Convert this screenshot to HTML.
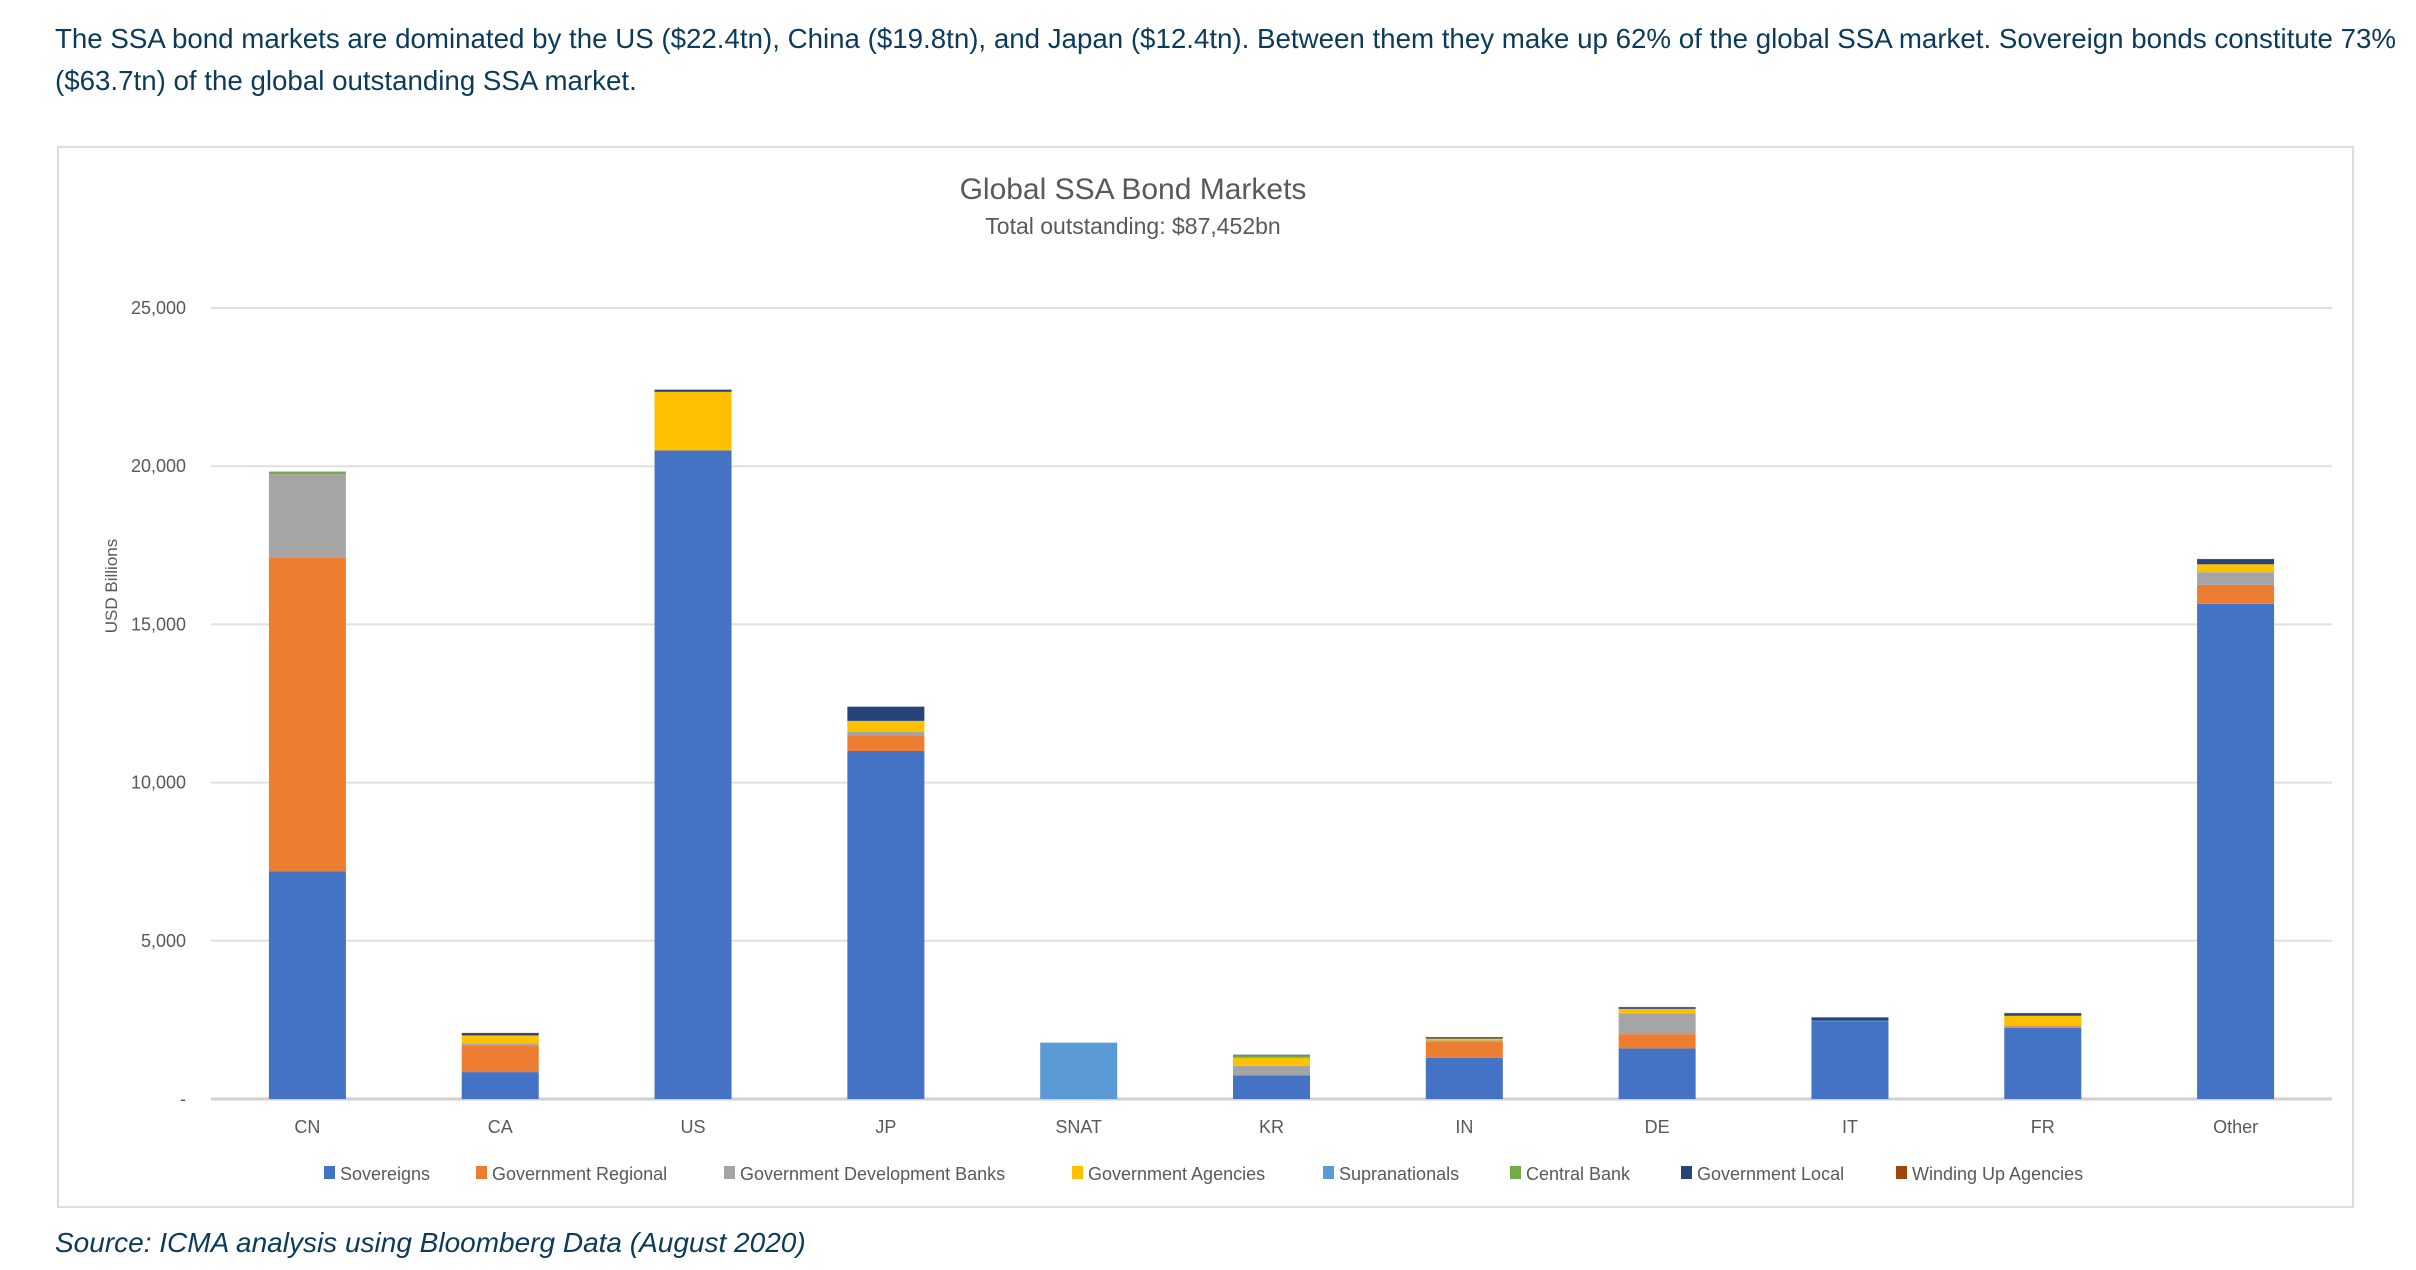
<!DOCTYPE html>
<html><head><meta charset="utf-8">
<style>
html,body{margin:0;padding:0;background:#fff;width:2416px;height:1270px;overflow:hidden}
.intro{position:absolute;left:55px;top:18px;width:2380px;font-family:"Liberation Sans",sans-serif;font-size:27.7px;line-height:42px;color:#0b3a5b}
.src{position:absolute;left:55px;top:1227px;font-family:"Liberation Sans",sans-serif;font-style:italic;font-size:28px;color:#0b3a5b}
.box{position:absolute;left:57px;top:146px;width:2297px;height:1062px;border:2px solid #dcdcdc;box-sizing:border-box}
svg{position:absolute;left:0;top:0}
</style></head><body>
<div class="intro">The SSA bond markets are dominated by the US ($22.4tn), China ($19.8tn), and Japan ($12.4tn). Between them they make up 62% of the global SSA market. Sovereign bonds constitute 73% ($63.7tn) of the global outstanding SSA market.</div>
<div class="box"></div>
<svg id="chart" width="2416" height="1270" font-family="Liberation Sans, sans-serif"></svg>
<div class="src">Source: ICMA analysis using Bloomberg Data (August 2020)</div>
<script>
const categories=["CN","CA","US","JP","SNAT","KR","IN","DE","IT","FR","Other"];
const seriesNames=["Sovereigns","Government Regional","Government Development Banks","Government Agencies","Supranationals","Central Bank","Government Local","Winding Up Agencies"];
const seriesColors=["#4472C4","#ED7D31","#A5A5A5","#FFC000","#5B9BD5","#70AD47","#264478","#9E480E"];
const sovereigns=[7200,850,20500,11000,0,750,1300,1600,2450,2250,15650];
const govRegional=[9900,850,0,500,0,0,500,450,0,50,600];
const govDevBanks=[2650,60,0,100,0,300,50,650,0,30,400];
const govAgencies=[0,250,1850,350,0,250,60,150,0,300,250];
const supranationals=[0,0,0,0,1780,0,0,0,30,0,0];
const centralBank=[80,0,0,0,0,80,0,0,0,0,0];
const govLocal=[0,60,70,450,0,20,40,50,100,80,150];
const windingUp=[0,20,0,0,0,0,10,10,0,10,20];
const yTicks=[0,5000,10000,15000,20000,25000];
const yTickLabels=["-","5,000","10,000","15,000","20,000","25,000"];
const series=[sovereigns,govRegional,govDevBanks,govAgencies,supranationals,centralBank,govLocal,windingUp];

const svg=document.getElementById('chart');
const NS='http://www.w3.org/2000/svg';
const x0=211,x1=2332,yBase=1099,yTop=308,yMax=25000;
const step=(x1-x0)/categories.length, barW=77;
const y=v=>yBase-(v/yMax)*(yBase-yTop);
const xc=i=>x0+step*(i+0.5);
function mk(tag,attrs,txt){const e=document.createElementNS(NS,tag);for(const k in attrs)e.setAttribute(k,attrs[k]);if(txt!==undefined)e.textContent=txt;svg.appendChild(e);return e;}

let t=mk('text',{x:1133,y:199,'text-anchor':'middle','font-size':30,fill:'#595959'},'Global SSA Bond Markets');


t=mk('text',{x:1133,y:234,'text-anchor':'middle','font-size':23,fill:'#595959'},'Total outstanding: $87,452bn');


t=mk('text',{x:0,y:0,transform:'translate(117,586) rotate(-90)','text-anchor':'middle','font-size':17,fill:'#595959'},'USD Billions');



yTicks.forEach((v,i)=>{
  const l=mk('line',{x1:x0,x2:x1,y1:y(v),y2:y(v),stroke:i===0?'#d0d0d0':'#e0e0e0','stroke-width':i===0?3:2});
  
  
  const tx=mk('text',{x:186,y:y(v)+6,'text-anchor':'end','font-size':18,fill:'#595959'},yTickLabels[i]);
  
  
});

categories.forEach((c,i)=>{
  let acc=0;
  series.forEach((s,k)=>{
    const v=s[i]; if(!v) return;
    const r=mk('rect',{x:xc(i)-barW/2,y:y(acc+v),width:barW,height:y(acc)-y(acc+v),fill:seriesColors[k]});
    
    
    acc+=v;
  });
  const tx=mk('text',{x:xc(i),y:1133,'text-anchor':'middle','font-size':18,fill:'#595959'},c);
  
  
});

const legX=[324,476,724,1072,1323,1510,1681,1896];
seriesNames.forEach((n,k)=>{
  const r=mk('rect',{x:legX[k],y:1166,width:11,height:13,fill:seriesColors[k]});
  
  
  const tx=mk('text',{x:legX[k]+16,y:1180,'font-size':18,fill:'#595959'},n);
  
  
});
</script>
</body></html>
